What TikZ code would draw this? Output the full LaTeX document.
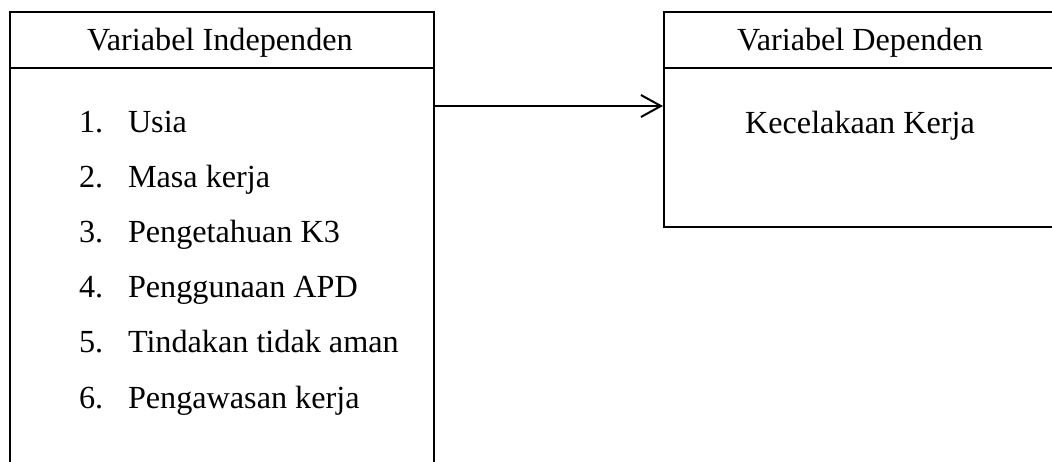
\documentclass[tikz,border=0pt]{standalone}
\usepackage{fontspec}
\setmainfont{Liberation Serif}
\usetikzlibrary{arrows.meta}
\begin{document}
\begin{tikzpicture}[x=1pt,y=-1pt,line width=2pt,
  box/.style={draw,inner sep=0pt,anchor=north west},
  txt/.style={inner sep=0pt,anchor=base,font=\fontsize{32.2}{36}\selectfont},
  num/.style={inner sep=0pt,anchor=base west,font=\fontsize{32.2}{36}\selectfont},
  conn/.style={-{Straight Barb[length=20pt,width=22pt,line width=2pt]}}]
\useasboundingbox (0,0) rectangle (1052,461);
\clip (0,0) rectangle (1052,461);
\fill[white] (0,0) rectangle (1052,461);
% boxes
\node[box,minimum width=424pt,minimum height=500pt] (L) at (9,11) {};
\node[box,minimum width=400pt,minimum height=215pt] (R) at (663,11) {};
\coordinate (hy) at (0,68);
\draw (L.west |- hy) -- (L.east |- hy);
\draw (R.west |- hy) -- (R.east |- hy);
% headers
\node[txt] (hl) at (220,50) {Variabel Independen};
\node[txt] (hr) at (860,50) {Variabel Dependen};
\node[txt] (kk) at (860,133) {Kecelakaan Kerja};
% list
\foreach \i/\t [count=\k from 0] in {1/Usia,2/Masa kerja,3/Pengetahuan K3,4/Penggunaan APD,5/Tindakan tidak aman,6/Pengawasan kerja}{
  \node[num] (n\i) at (78,132+55.2*\k) {\i.};
  \node[num] (t\i) at (127,132+55.2*\k) {\t};
}
% arrow
\coordinate (ay) at (0,106);
\draw[conn] (L.east |- ay) -- (R.west |- ay);
\end{tikzpicture}
\end{document}
